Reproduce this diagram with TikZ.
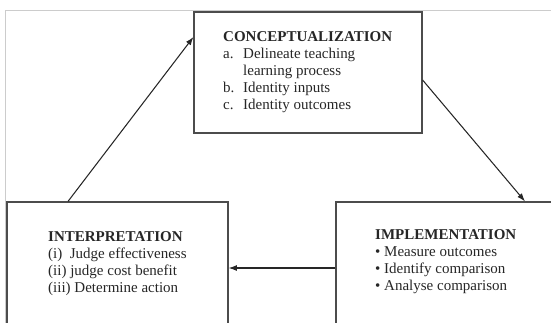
\documentclass[tikz,border=0pt]{standalone}
\usepackage{fontspec}
\setmainfont{Liberation Serif}
\usetikzlibrary{arrows.meta}
\tikzset{
  stage/.style={draw=black!70, line width=1pt, minimum width=#1, inner sep=0pt},
  stagetext/.style={anchor=north west, inner sep=0pt, text=black!85, font=\fontsize{12.8}{14.5}\selectfont},
  flow/.style={draw=black!85, line width=0.9pt, -{Latex[length=7pt,width=5pt]}}
}
\begin{document}
\begin{tikzpicture}[x=0.03cm,y=-0.03cm]
\useasboundingbox (0,0) rectangle (551,322);
\clip (0,0) rectangle (551,322);
\draw[black!20, line width=0.6pt] (5,330) -- (5,10) -- (551,10);
% the three stages
\node[stage=6.84cm, minimum height=3.63cm] (concept) at (308,72.5) {};
\node[stage=6.63cm, minimum height=4.5cm] (interp) at (117.5,277) {};
\node[stage=6.72cm, minimum height=4.5cm] (impl) at (448,277) {};
\node[stagetext] (concepttxt) at (223,29) {\begin{tabular}{@{}p{0.6cm}@{}l@{}}
\multicolumn{2}{@{}l@{}}{\textbf{CONCEPTUALIZATION}}\\
a. & Delineate teaching\\
   & learning process\\
b. & Identity inputs\\
c. & Identity outcomes
\end{tabular}};
\node[stagetext] (interptxt) at (48,229) {\begin{tabular}{@{}l@{}}
\textbf{INTERPRETATION}\\
(i)~ Judge effectiveness\\
(ii) judge cost benefit\\
(iii) Determine action
\end{tabular}};
\node[stagetext] (impltxt) at (375,227) {\begin{tabular}{@{}l@{}}
\textbf{IMPLEMENTATION}\\
\textbullet\ Measure outcomes\\
\textbullet\ Identify comparison\\
\textbullet\ Analyse comparison
\end{tabular}};
% cycle
\draw[flow] (interp.north -| 68,0) -- (concept.west |- 0,37);
\draw[flow] (concept.east |- 0,80) -- (impl.north -| 525,0);
\draw[flow] (impl.west |- 0,268) -- (interp.east |- 0,268);
\end{tikzpicture}
\end{document}
